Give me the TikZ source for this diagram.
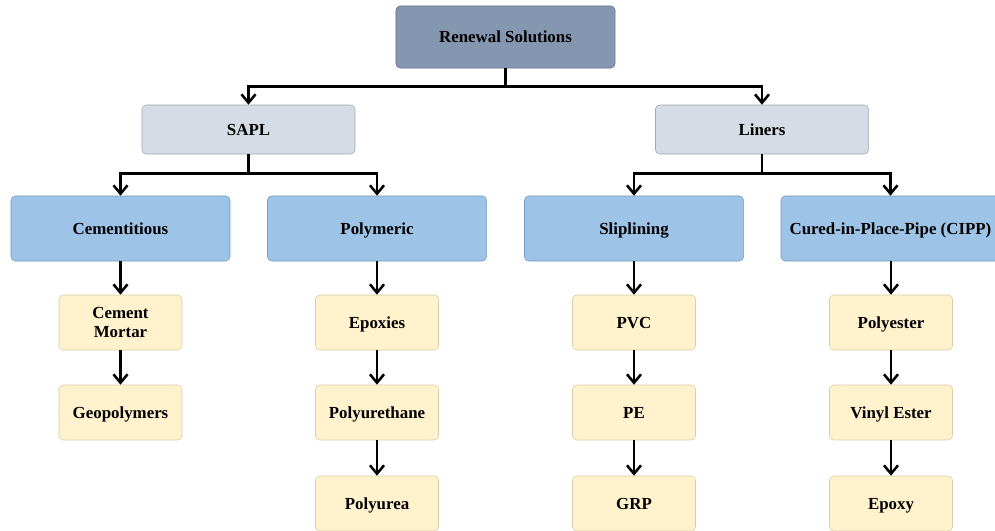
\documentclass[tikz,border=0pt]{standalone}
\usepackage{fontspec}
\setmainfont{Liberation Serif}
\usepackage{xcolor}
\definecolor{rootfill}{RGB}{132,150,176}
\definecolor{rootdraw}{RGB}{100,114,136}
\definecolor{subfill}{RGB}{214,220,229}
\definecolor{subdraw}{RGB}{160,168,180}
\definecolor{catfill}{RGB}{157,195,230}
\definecolor{catdraw}{RGB}{120,155,190}
\definecolor{leaffill}{RGB}{255,242,204}
\definecolor{leafdraw}{RGB}{215,205,170}
\usetikzlibrary{arrows.meta,positioning}

\tikzset{
  box/.style={rounded corners=3pt, thin, align=center, font=\fontsize{12}{13}\selectfont\bfseries,
    inner sep=2pt, text height=10.5pt, text depth=2pt},
  rootbox/.style={box, fill=rootfill, draw=rootdraw, minimum width=5.475cm, minimum height=1.55cm},
  subbox/.style={box, fill=subfill, draw=subdraw, minimum width=5.325cm, minimum height=1.225cm},
  catbox/.style={box, fill=catfill, draw=catdraw, minimum width=5.475cm, minimum height=1.625cm},
  leafbox/.style={box, fill=leaffill, draw=leafdraw, minimum width=3.075cm, minimum height=1.375cm},
  arr/.style={-{Straight Barb[length=6pt,width=10pt]}, line width=1.8pt, black},
}

\begin{document}
\begin{tikzpicture}[x=0.025cm, y=-0.025cm]
  \useasboundingbox (0,0) rectangle (995,531);
  \clip (0,0) rectangle (995,531);

  % Root
  \node[rootbox] (root) at (505.5,37) {Renewal Solutions};

  % Second level
  \node[subbox] (sapl) at (248.5,129.5) {SAPL};
  \node[subbox] (liners) at (762,129.5) {Liners};

  % Categories
  \node[catbox] (cem) at (120.5,228.5) {Cementitious};
  \node[catbox] (poly) at (377,228.5) {Polymeric};
  \node[catbox] (slip) at (634,228.5) {Sliplining};
  \node[catbox] (cipp) at (890.5,228.5) {Cured-in-Place-Pipe (CIPP)};

  % Materials
  \node[leafbox, text height=, text depth=] (mortar) at (120.5,322.5) {Cement\\Mortar};
  \node[leafbox] (geo) at (120.5,412.5) {Geopolymers};

  \node[leafbox] (epox) at (377,322.5) {Epoxies};
  \node[leafbox] (pu) at (377,412.5) {Polyurethane};
  \node[leafbox] (purea) at (377,503.5) {Polyurea};

  \node[leafbox] (pvc) at (634,322.5) {PVC};
  \node[leafbox] (pe) at (634,412.5) {PE};
  \node[leafbox] (grp) at (634,503.5) {GRP};

  \node[leafbox] (pest) at (891,322.5) {Polyester};
  \node[leafbox] (vinyl) at (891,412.5) {Vinyl Ester};
  \node[leafbox] (epoxy) at (891,503.5) {Epoxy};

  % Tree connectors
  \draw[arr] (root.south) -- ++(0,18) -| (sapl.north);
  \draw[arr] (root.south) -- ++(0,18) -| (liners.north);

  \draw[arr] (sapl.south) -- ++(0,19) -| (cem.north);
  \draw[arr] (sapl.south) -- ++(0,19) -| (poly.north);
  \draw[arr] (liners.south) -- ++(0,19) -| (slip.north);
  \draw[arr] (liners.south) -- ++(0,19) -| (cipp.north);

  % Vertical chains
  \draw[arr] (cem) -- (mortar);
  \draw[arr] (mortar) -- (geo);
  \draw[arr] (poly) -- (epox);
  \draw[arr] (epox) -- (pu);
  \draw[arr] (pu) -- (purea);
  \draw[arr] (slip) -- (pvc);
  \draw[arr] (pvc) -- (pe);
  \draw[arr] (pe) -- (grp);
  \draw[arr] (cipp.south -| pest.north) -- (pest);
  \draw[arr] (pest) -- (vinyl);
  \draw[arr] (vinyl) -- (epoxy);
\end{tikzpicture}
\end{document}
